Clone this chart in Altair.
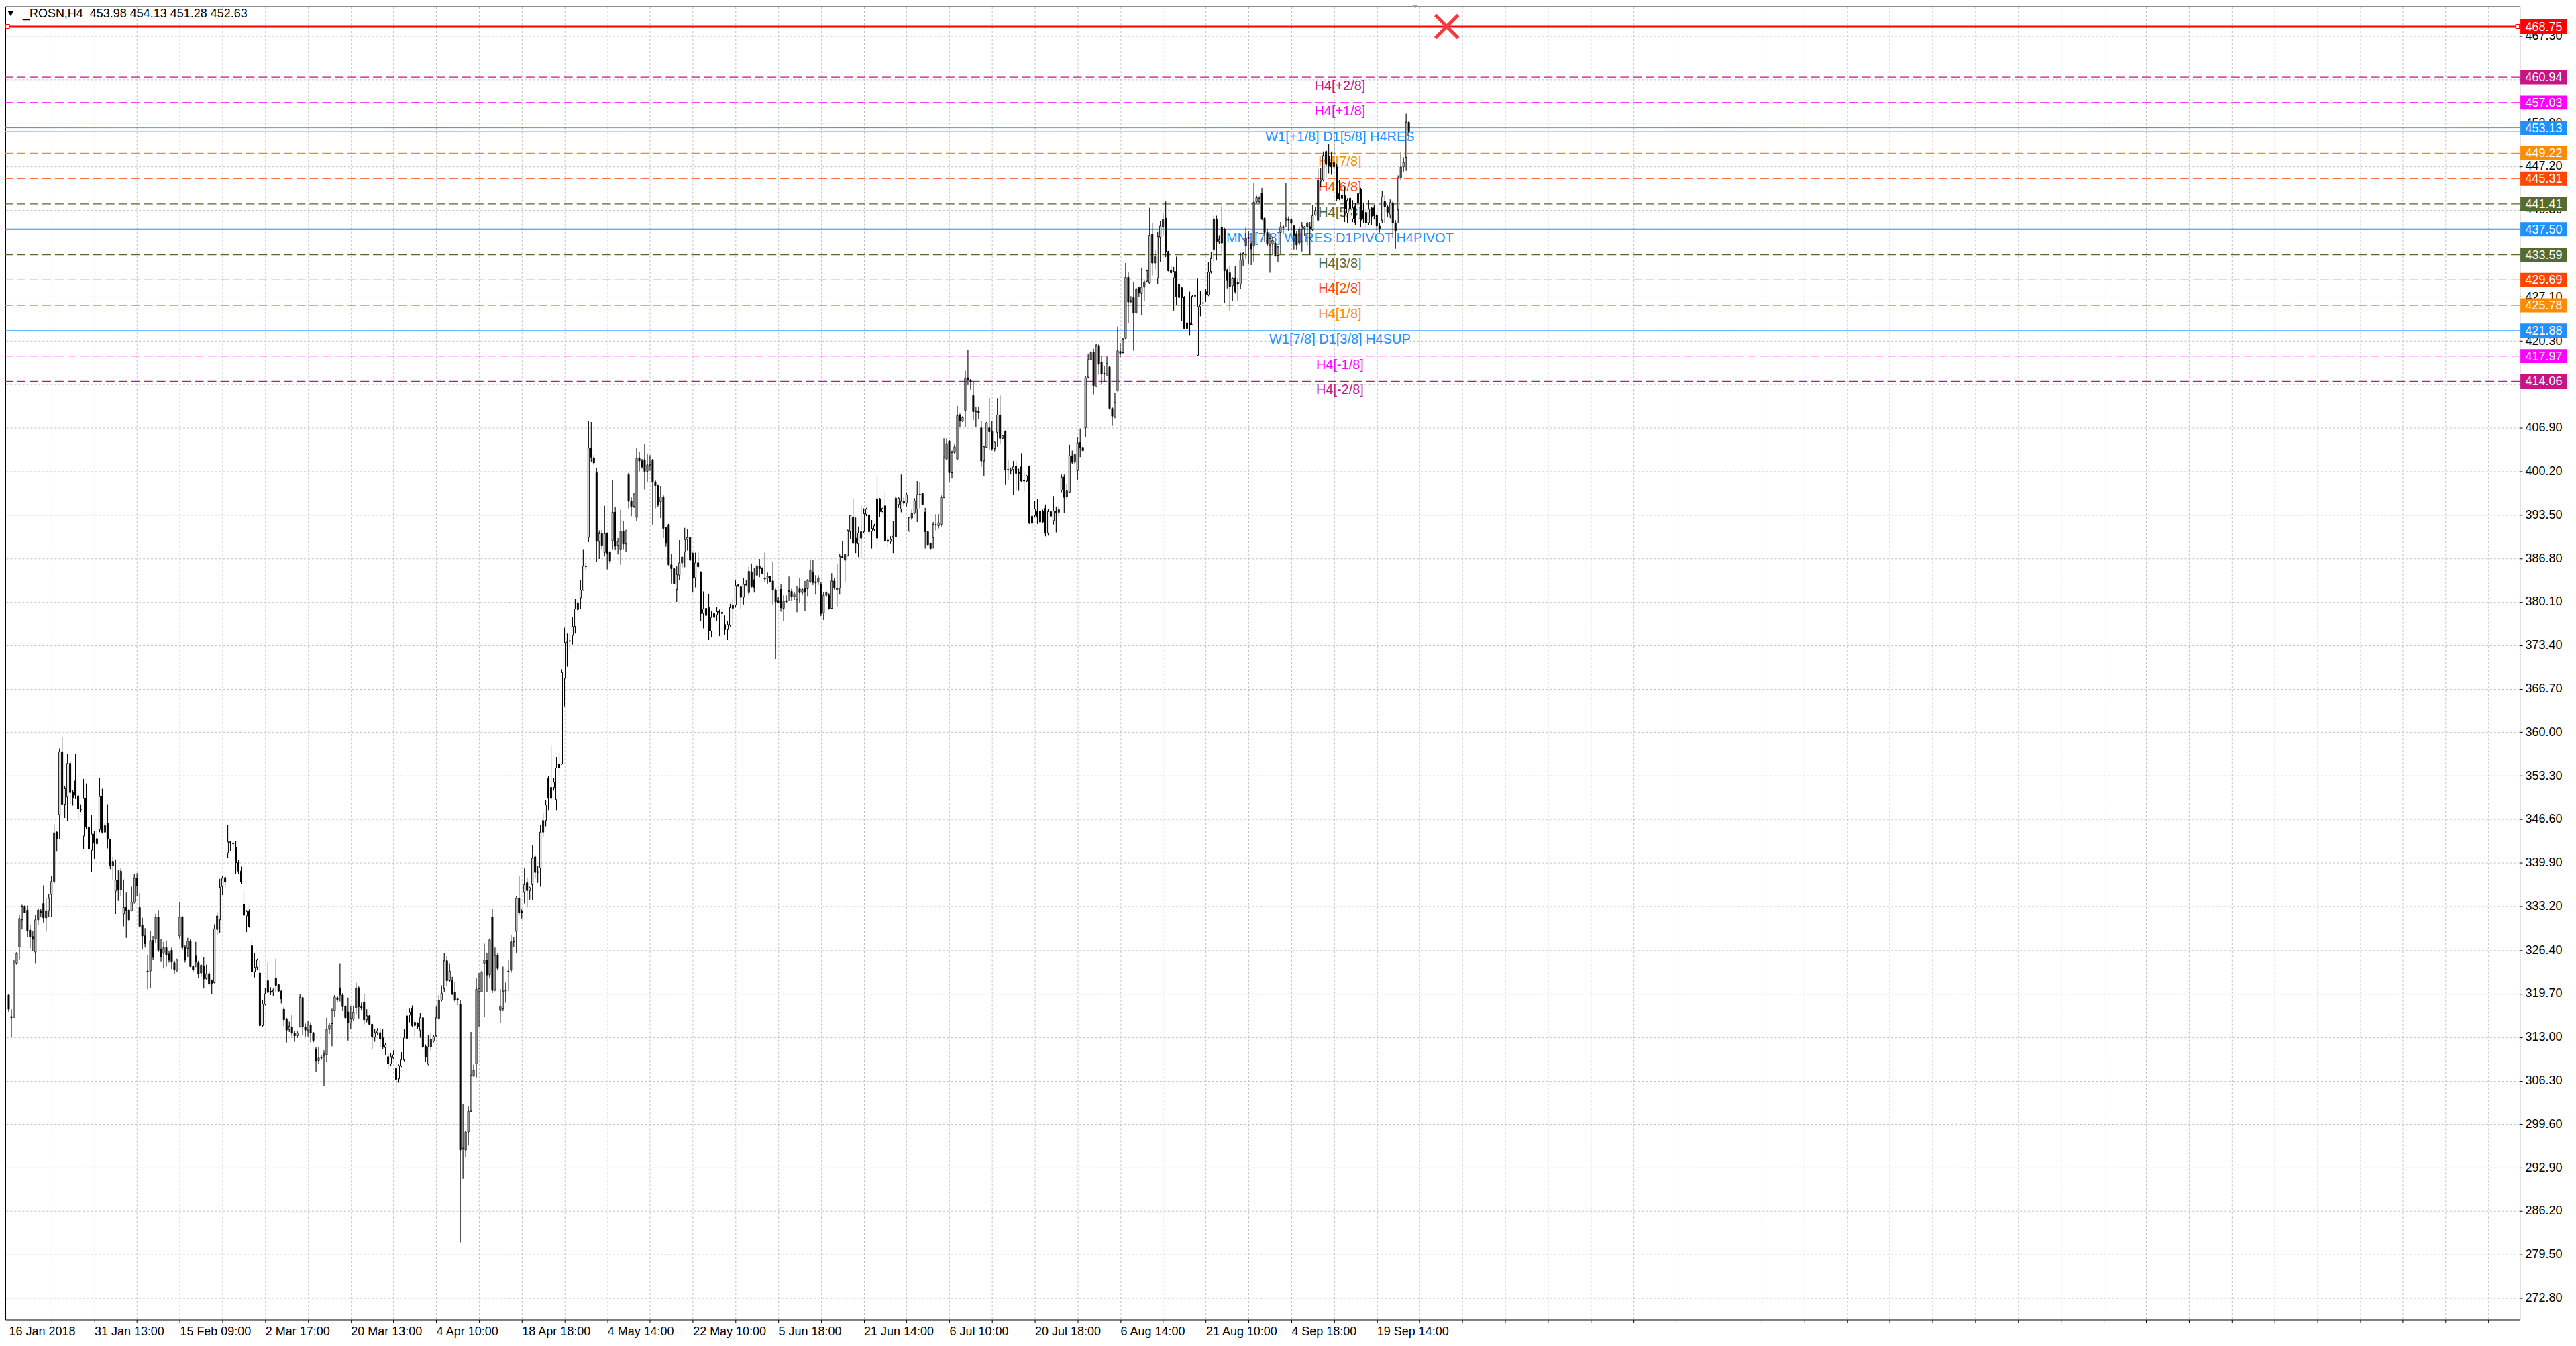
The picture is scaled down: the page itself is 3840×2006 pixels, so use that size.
import json
import altair as alt
import pandas as pd

# ---------------- candle data (H4 bars) ----------------
OPEN = [
    319.5, 316.0, 316.1, 324.4, 326.9, 331.1, 333.2, 332.6, 329.5, 328.5,
    326.1, 331.1, 332.4, 333.6, 331.4, 332.5, 335.0, 337.0, 344.6, 347.3,
    357.0, 348.9, 350.0, 355.2, 350.8, 352.5, 350.2, 348.1, 344.0, 349.8,
    345.4, 341.8, 344.3, 342.8, 345.0, 350.1, 344.6, 346.0, 343.5, 339.4,
    335.5, 337.2, 335.7, 332.0, 333.0, 332.6, 332.5, 333.8, 337.5, 333.0,
    330.3, 328.6, 323.2, 323.2, 327.9, 328.1, 331.5, 326.5, 325.9, 326.8,
    325.8, 326.4, 324.5, 323.4, 328.6, 331.5, 326.9, 326.7, 327.8, 323.9,
    325.5, 324.5, 322.9, 323.9, 322.0, 322.8, 321.7, 321.4, 329.6, 331.1,
    336.2, 337.6, 341.4, 343.1, 342.9, 342.3, 339.9, 338.6, 333.5, 331.7,
    332.4, 327.1, 323.1, 323.8, 322.9, 314.8, 318.1, 321.7, 320.1, 320.0,
    322.1, 321.1, 320.1, 317.3, 315.8, 314.2, 314.6, 313.6, 313.2, 314.6,
    319.1, 314.6, 314.1, 314.9, 313.7, 311.1, 309.4, 309.9, 310.1, 310.3,
    314.2, 315.1, 317.1, 319.1, 320.6, 319.5, 317.8, 316.9, 315.2, 315.8,
    317.5, 320.6, 317.7, 318.4, 315.7, 316.3, 315.0, 313.0, 313.7, 313.7,
    312.9, 311.4, 310.0, 308.9, 309.8, 308.2, 306.6, 308.6, 309.5, 312.8,
    316.4, 317.4, 314.8, 315.2, 314.1, 316.0, 311.6, 308.9, 311.5, 312.4,
    313.2, 315.9, 318.7, 320.5, 324.8, 321.7, 321.7, 319.9, 318.9, 318.1,
    295.8, 295.6, 298.4, 301.6, 307.0, 308.9, 320.0, 320.0, 324.4, 324.9,
    322.6, 331.5, 320.3, 325.6, 317.2, 317.4, 320.1, 323.1, 323.3, 327.7,
    329.3, 334.4, 332.4, 335.3, 336.8, 335.6, 336.5, 340.8, 338.4, 339.1,
    344.6, 346.4, 352.9, 349.8, 351.5, 349.6, 354.5, 355.1, 368.3, 373.8,
    374.0, 374.9, 376.3, 378.9, 380.7, 381.9, 385.5, 390.0, 403.8, 402.3,
    400.0, 389.4, 390.6, 387.7, 390.6, 387.8, 389.5, 393.9, 388.8, 388.2,
    391.0, 389.0, 399.7, 395.6, 394.8, 393.1, 402.3, 401.8, 402.0, 400.2,
    401.2, 402.0, 398.6, 398.0, 395.5, 396.3, 391.5, 392.0, 385.8, 385.2,
    382.0, 384.2, 386.1, 387.8, 389.7, 390.0, 387.6, 383.8, 386.1, 384.7,
    378.3, 379.1, 379.2, 375.6, 377.7, 378.1, 378.6, 378.5, 376.6, 375.8,
    376.5, 379.1, 379.6, 382.7, 382.4, 380.8, 382.8, 381.5, 384.7, 383.5,
    384.2, 385.6, 385.3, 383.6, 383.7, 384.0, 383.3, 381.9, 380.3, 382.0,
    379.1, 380.3, 381.7, 381.7, 380.9, 380.5, 382.1, 381.5, 382.1, 382.1,
    383.2, 384.6, 383.0, 383.2, 382.8, 378.4, 381.1, 381.1, 379.1, 383.3,
    381.9, 382.2, 387.1, 386.5, 387.2, 390.9, 393.1, 389.9, 389.0, 389.9,
    390.9, 393.6, 393.5, 391.0, 391.2, 389.9, 396.0, 394.0, 394.9, 389.6,
    389.4, 390.0, 390.1, 395.1, 394.4, 395.6, 395.3, 391.0, 393.0, 393.8,
    394.4, 396.6, 396.8, 393.9, 390.9, 389.1, 390.0, 392.0, 391.8, 392.0,
    396.2, 402.1, 404.9, 400.0, 403.1, 402.1, 408.9, 407.9, 409.6, 414.6,
    414.3, 411.9, 409.5, 409.5, 406.9, 401.8, 403.9, 406.9, 406.4, 403.7,
    406.2, 408.9, 405.3, 406.4, 400.5, 400.4, 400.5, 401.0, 400.0, 400.9,
    398.8, 398.7, 401.0, 392.2, 393.4, 394.0, 392.4, 394.1, 394.5, 390.7,
    394.0, 392.6, 394.1, 393.9, 397.3, 399.3, 396.3, 397.0, 402.6, 401.6,
    400.3, 404.7, 403.9, 406.9, 414.7, 417.4, 418.6, 413.3, 419.6, 417.0,
    415.3, 415.2, 416.3, 409.9, 408.6, 412.6, 418.7, 418.5, 420.7, 430.1,
    426.5, 427.0, 424.6, 428.5, 427.6, 428.6, 429.5, 429.2, 436.8, 432.3,
    430.0, 436.3, 437.8, 439.2, 434.1, 431.2, 430.0, 431.0, 427.0, 428.5,
    427.1, 422.2, 423.1, 422.8, 427.2, 418.1, 425.6, 426.1, 427.9, 427.4,
    431.0, 434.4, 439.1, 435.7, 437.8, 437.5, 431.1, 430.8, 428.8, 430.0,
    429.3, 429.0, 432.8, 435.0, 436.3, 435.3, 434.9, 441.7, 441.8, 443.1,
    439.2, 437.0, 435.1, 435.2, 435.4, 433.5, 437.0, 437.7, 438.9, 439.1,
    439.0, 438.0, 436.8, 435.4, 437.5, 437.6, 437.9, 437.9, 437.4, 439.7,
    438.9, 444.9, 445.1, 449.5, 448.7, 447.8, 447.1, 447.1, 443.0, 442.3,
    442.7, 440.0, 442.3, 439.1, 441.1, 441.6, 443.7, 440.4, 440.1, 438.5,
    440.8, 440.8, 439.7, 438.0, 438.9, 441.8, 441.0, 439.7, 441.6, 438.5,
    440.5, 445.4, 447.1, 448.6, 453.98,
]

HIGH = [
    319.7, 317.3, 324.9, 326.1, 331.9, 333.4, 333.3, 333.3, 330.3, 329.4,
    331.8, 332.9, 332.8, 336.4, 334.4, 335.0, 337.9, 345.8, 344.7, 357.5,
    359.2, 351.7, 356.7, 355.6, 351.1, 356.7, 350.4, 348.9, 352.8, 352.1,
    345.5, 347.3, 344.8, 344.9, 353.0, 351.3, 346.0, 348.9, 343.5, 340.8,
    340.4, 338.8, 339.1, 337.3, 335.3, 332.7, 336.2, 338.2, 338.3, 335.2,
    331.4, 329.8, 325.6, 329.4, 328.6, 332.0, 332.6, 328.1, 327.7, 327.9,
    326.3, 326.8, 324.8, 325.1, 333.8, 331.7, 327.2, 328.3, 328.1, 324.1,
    327.7, 324.8, 324.3, 325.4, 324.2, 323.0, 321.9, 330.4, 332.3, 337.4,
    337.9, 337.8, 345.7, 343.2, 343.1, 343.2, 340.3, 339.3, 335.7, 332.6,
    332.7, 328.0, 325.9, 325.1, 324.9, 318.7, 320.6, 324.5, 320.7, 320.5,
    325.1, 321.2, 320.2, 317.6, 316.0, 315.4, 316.4, 313.9, 313.9, 319.6,
    319.2, 315.1, 315.5, 315.3, 313.8, 311.5, 311.5, 310.2, 311.0, 316.0,
    315.2, 317.4, 319.5, 319.3, 324.4, 319.8, 317.9, 319.1, 317.8, 317.8,
    321.4, 320.8, 318.3, 319.7, 317.3, 316.4, 315.1, 314.3, 314.4, 314.4,
    314.3, 312.1, 310.6, 310.5, 311.0, 309.2, 308.8, 310.7, 314.3, 317.3,
    317.4, 317.9, 315.7, 315.3, 316.8, 316.1, 311.9, 313.4, 313.7, 313.3,
    317.7, 319.5, 321.0, 325.9, 325.5, 324.4, 322.3, 321.5, 319.0, 318.7,
    302.7, 298.6, 302.3, 313.8, 308.8, 322.1, 322.9, 323.2, 327.4, 325.9,
    328.2, 332.8, 326.8, 326.0, 320.4, 323.9, 321.4, 325.0, 328.7, 328.4,
    334.8, 337.9, 332.7, 339.0, 337.6, 336.2, 342.6, 341.1, 339.4, 345.7,
    347.6, 349.5, 353.2, 357.9, 352.9, 356.2, 356.9, 369.7, 376.1, 375.2,
    375.2, 377.7, 380.6, 380.4, 383.5, 388.2, 386.1, 408.0, 407.8, 402.7,
    400.7, 391.1, 391.2, 394.9, 390.8, 387.9, 398.8, 394.7, 389.9, 394.3,
    392.5, 391.2, 400.0, 396.2, 396.9, 403.8, 403.2, 402.1, 404.5, 402.9,
    402.7, 402.1, 398.9, 398.1, 397.9, 396.6, 391.6, 392.1, 387.5, 385.3,
    385.6, 389.6, 387.1, 391.5, 391.3, 390.1, 387.7, 387.7, 387.7, 384.8,
    381.7, 379.2, 381.3, 378.7, 378.5, 379.3, 378.9, 378.6, 378.0, 377.2,
    379.8, 380.5, 383.5, 382.8, 382.6, 383.7, 383.5, 385.5, 386.0, 385.3,
    385.8, 386.7, 385.4, 387.7, 384.6, 384.1, 386.2, 382.1, 380.8, 382.8,
    381.1, 381.1, 384.0, 382.1, 381.5, 382.5, 383.7, 382.2, 383.3, 383.6,
    386.5, 386.6, 384.2, 384.2, 383.2, 381.6, 381.7, 381.4, 384.5, 383.7,
    385.9, 387.5, 389.4, 387.5, 391.2, 393.5, 395.9, 393.1, 391.7, 395.0,
    394.5, 394.6, 393.6, 392.7, 392.1, 399.5, 396.1, 394.6, 397.0, 390.1,
    390.2, 392.5, 396.4, 396.2, 399.7, 396.2, 397.0, 393.2, 394.3, 396.1,
    398.7, 398.5, 396.9, 394.6, 391.0, 389.2, 392.4, 393.6, 393.6, 396.5,
    405.3, 405.3, 405.0, 403.4, 404.5, 410.3, 409.1, 408.7, 415.7, 418.9,
    414.4, 414.0, 410.1, 410.2, 408.0, 404.1, 407.8, 411.5, 407.9, 404.9,
    411.5, 411.9, 405.8, 406.5, 402.0, 400.8, 401.8, 401.8, 400.6, 403.0,
    400.1, 399.6, 401.1, 394.4, 395.6, 396.0, 394.2, 394.3, 395.1, 394.4,
    394.2, 396.4, 394.8, 394.8, 399.7, 399.7, 398.2, 404.3, 403.4, 402.9,
    405.5, 406.8, 404.0, 414.9, 418.3, 418.7, 419.1, 419.9, 419.8, 418.0,
    416.4, 417.9, 416.4, 410.1, 412.3, 422.5, 420.0, 420.8, 432.3, 430.9,
    427.2, 429.3, 428.5, 428.6, 431.6, 429.6, 431.3, 440.8, 438.5, 434.4,
    437.1, 438.8, 439.9, 441.8, 434.2, 431.8, 431.7, 433.3, 429.1, 428.6,
    427.2, 423.6, 427.9, 427.4, 428.0, 429.9, 428.0, 427.5, 428.3, 432.4,
    434.0, 439.6, 439.6, 436.6, 441.1, 437.7, 431.4, 431.9, 430.1, 431.9,
    430.0, 433.9, 434.0, 437.8, 437.2, 435.5, 444.7, 442.7, 442.6, 443.9,
    439.3, 437.6, 436.9, 436.3, 435.5, 435.0, 438.6, 438.2, 444.6, 439.5,
    439.2, 438.2, 437.2, 437.9, 438.6, 438.0, 438.6, 438.6, 441.3, 441.0,
    446.8, 446.9, 449.5, 449.7, 450.6, 449.5, 452.5, 447.5, 445.1, 444.0,
    444.0, 442.3, 444.4, 442.0, 441.6, 443.5, 443.9, 441.5, 440.6, 442.0,
    441.0, 441.2, 439.9, 438.5, 443.4, 442.7, 441.3, 442.1, 441.8, 438.9,
    445.8, 449.4, 448.6, 455.3, 454.13,
]

LOW = [
    316.9, 313.0, 316.0, 324.2, 325.0, 329.6, 332.2, 328.5, 326.7, 326.3,
    324.4, 330.3, 331.5, 330.7, 329.3, 331.5, 331.6, 336.6, 341.6, 343.5,
    348.8, 346.8, 346.3, 349.0, 348.7, 349.7, 346.6, 347.7, 342.0, 345.1,
    341.5, 338.5, 340.5, 342.5, 344.6, 344.4, 344.5, 342.1, 338.9, 337.3,
    332.0, 334.0, 334.7, 330.1, 328.3, 330.9, 332.4, 333.6, 334.7, 330.0,
    326.5, 326.8, 320.4, 320.6, 324.9, 327.5, 326.1, 324.7, 323.6, 323.9,
    324.5, 323.5, 322.8, 323.1, 328.2, 326.4, 324.5, 325.3, 323.8, 323.1,
    323.8, 322.1, 322.3, 320.5, 321.9, 321.0, 319.6, 321.3, 328.7, 329.1,
    334.9, 336.1, 340.6, 341.7, 341.6, 338.1, 338.1, 336.6, 331.7, 329.2,
    329.9, 322.4, 322.2, 323.4, 314.6, 314.6, 317.9, 319.8, 319.5, 319.4,
    320.0, 320.0, 318.2, 314.7, 312.2, 313.8, 312.9, 312.3, 312.9, 314.5,
    313.4, 313.1, 313.1, 312.2, 312.2, 307.7, 308.9, 309.5, 305.5, 309.2,
    313.5, 311.6, 316.1, 318.4, 318.5, 317.0, 315.9, 312.5, 314.3, 315.6,
    316.6, 315.9, 317.2, 315.0, 315.3, 314.9, 311.2, 312.3, 313.3, 311.5,
    311.2, 310.3, 308.1, 308.6, 309.7, 304.9, 306.0, 308.4, 309.3, 312.6,
    315.3, 314.6, 313.1, 314.3, 312.9, 311.3, 309.2, 308.7, 310.8, 312.2,
    313.1, 315.7, 318.5, 319.9, 320.8, 321.5, 319.5, 318.4, 317.9, 281.4,
    291.2, 294.5, 296.3, 301.4, 306.9, 306.8, 314.6, 319.9, 316.1, 319.9,
    322.2, 319.8, 320.1, 323.3, 315.2, 317.1, 318.3, 320.1, 322.9, 326.9,
    326.0, 331.8, 331.3, 333.6, 333.0, 334.2, 334.1, 337.6, 336.8, 336.2,
    343.9, 345.5, 348.0, 349.5, 351.0, 348.0, 353.2, 355.0, 364.0, 370.1,
    372.6, 373.5, 375.2, 378.6, 379.0, 381.8, 385.0, 389.3, 401.6, 401.2,
    386.2, 386.7, 388.2, 387.1, 385.1, 386.0, 388.2, 388.1, 387.4, 385.8,
    388.2, 387.8, 394.5, 393.3, 394.6, 392.5, 400.2, 400.6, 397.4, 398.6,
    400.3, 392.0, 394.5, 394.7, 393.0, 389.9, 388.6, 385.7, 382.9, 382.8,
    380.1, 383.4, 385.4, 385.4, 388.0, 386.4, 381.5, 382.3, 385.4, 377.2,
    376.0, 377.9, 374.2, 374.6, 377.5, 377.2, 374.8, 377.2, 375.0, 374.2,
    376.3, 376.5, 379.2, 382.4, 379.0, 379.7, 382.6, 381.1, 382.3, 381.5,
    384.1, 383.9, 384.4, 383.2, 382.9, 383.1, 379.6, 371.3, 379.9, 378.6,
    377.1, 379.9, 380.2, 380.3, 380.4, 378.5, 380.0, 381.1, 378.7, 381.0,
    383.0, 382.7, 381.2, 382.7, 377.9, 377.3, 380.9, 378.9, 379.0, 382.0,
    379.4, 381.2, 386.8, 383.2, 387.1, 389.8, 389.0, 387.6, 387.0, 386.9,
    390.7, 393.3, 390.3, 388.3, 391.0, 388.6, 393.2, 393.9, 389.1, 388.6,
    389.0, 387.6, 390.0, 394.6, 393.9, 394.9, 394.8, 390.9, 392.7, 393.6,
    392.4, 394.5, 395.0, 388.3, 388.8, 388.2, 388.3, 391.1, 391.4, 391.7,
    396.1, 402.0, 398.6, 399.1, 402.9, 402.0, 407.0, 407.8, 407.0, 413.5,
    412.8, 408.1, 407.0, 408.2, 400.9, 399.5, 403.8, 403.5, 403.4, 403.3,
    404.0, 404.5, 405.2, 398.1, 398.8, 399.7, 396.6, 397.2, 397.2, 398.6,
    397.1, 398.6, 392.1, 391.0, 393.1, 392.1, 392.2, 392.3, 390.2, 390.3,
    393.1, 392.0, 390.8, 393.3, 397.0, 393.8, 395.9, 396.9, 401.4, 401.3,
    398.9, 402.4, 403.3, 405.5, 414.5, 417.3, 412.1, 413.2, 415.1, 413.7,
    414.0, 414.9, 409.7, 407.2, 408.4, 412.5, 417.8, 418.4, 420.6, 423.1,
    426.2, 418.8, 424.5, 427.1, 424.3, 426.5, 429.3, 429.1, 430.4, 431.3,
    429.0, 432.4, 436.5, 433.2, 431.0, 430.7, 425.0, 425.8, 426.9, 423.4,
    422.1, 422.1, 421.1, 422.7, 427.1, 418.0, 424.1, 425.9, 426.3, 427.2,
    430.7, 432.4, 432.7, 435.2, 433.9, 426.2, 428.4, 425.0, 426.4, 427.6,
    426.5, 428.3, 431.9, 432.9, 432.1, 432.0, 432.4, 441.5, 441.6, 438.9,
    435.5, 435.0, 430.8, 433.7, 433.3, 432.5, 433.7, 436.8, 437.9, 437.2,
    437.2, 434.4, 434.4, 435.1, 434.1, 436.5, 435.1, 433.6, 437.2, 439.6,
    438.7, 444.0, 444.9, 445.4, 446.1, 445.9, 447.0, 441.9, 442.0, 441.6,
    438.6, 438.4, 438.9, 438.6, 438.2, 439.7, 437.9, 438.5, 437.7, 438.2,
    438.1, 439.0, 437.2, 437.0, 438.5, 438.5, 439.3, 439.2, 436.1, 434.5,
    438.5, 445.1, 446.4, 446.5, 451.28,
]

CLOSE = [
    317.3, 316.2, 324.3, 325.9, 331.3, 333.2, 332.2, 329.4, 328.5, 328.1,
    331.1, 332.6, 332.2, 331.4, 332.5, 334.4, 337.0, 344.5, 343.6, 357.0,
    348.9, 351.3, 355.2, 350.7, 349.9, 350.3, 348.2, 348.2, 349.8, 345.4,
    342.0, 344.3, 342.9, 343.6, 350.1, 344.6, 345.6, 343.5, 339.4, 340.1,
    337.2, 335.7, 338.6, 333.0, 332.5, 331.1, 333.8, 337.5, 336.4, 330.1,
    328.6, 327.4, 323.1, 327.9, 325.3, 331.5, 326.4, 325.4, 326.8, 325.7,
    324.9, 324.6, 323.4, 324.9, 331.5, 326.8, 324.9, 327.8, 323.9, 323.4,
    324.6, 322.8, 324.1, 322.0, 322.8, 321.2, 321.3, 329.7, 331.7, 336.1,
    337.5, 336.9, 343.1, 342.9, 342.8, 339.9, 338.6, 336.9, 331.8, 332.4,
    330.0, 323.1, 323.8, 324.9, 314.8, 318.1, 319.7, 319.9, 319.9, 320.2,
    321.0, 320.1, 318.9, 315.7, 314.1, 314.7, 313.6, 313.2, 313.7, 319.1,
    314.6, 314.1, 314.9, 313.7, 312.5, 309.4, 309.8, 309.8, 310.4, 314.2,
    314.9, 317.1, 319.2, 318.8, 319.5, 317.7, 316.0, 315.2, 315.9, 316.9,
    320.6, 317.7, 317.5, 315.7, 316.3, 315.0, 313.0, 313.7, 314.0, 312.7,
    311.5, 311.8, 308.9, 310.0, 310.3, 306.5, 308.6, 309.5, 312.9, 316.3,
    316.9, 314.8, 315.3, 314.6, 316.0, 311.5, 309.9, 311.5, 312.7, 313.1,
    316.0, 318.7, 319.8, 324.8, 321.7, 323.2, 319.7, 318.7, 318.7, 295.6,
    295.9, 298.4, 301.6, 307.1, 307.9, 320.4, 320.5, 323.1, 324.9, 322.6,
    328.0, 320.2, 325.6, 323.6, 317.8, 320.1, 320.3, 323.2, 327.7, 327.8,
    334.4, 332.2, 332.2, 336.5, 335.6, 336.0, 340.6, 338.4, 338.5, 344.6,
    346.4, 348.8, 349.8, 351.5, 352.3, 354.5, 355.1, 369.2, 373.8, 373.9,
    374.1, 376.3, 379.0, 379.9, 381.9, 385.6, 385.6, 403.8, 402.4, 401.5,
    389.4, 390.6, 388.8, 390.6, 387.6, 386.4, 393.9, 388.7, 389.4, 391.0,
    389.0, 391.0, 395.6, 394.8, 396.6, 402.3, 401.8, 400.9, 400.2, 401.2,
    401.3, 398.6, 398.0, 395.1, 396.3, 391.4, 389.1, 385.8, 385.2, 382.9,
    384.3, 386.1, 387.0, 389.7, 390.0, 386.5, 383.8, 386.1, 385.5, 378.3,
    379.0, 378.0, 375.6, 377.7, 378.3, 378.6, 378.5, 378.3, 375.8, 376.6,
    379.2, 379.6, 382.6, 382.5, 380.8, 382.8, 382.7, 384.8, 382.4, 382.3,
    385.6, 385.2, 384.5, 383.7, 384.0, 383.2, 381.9, 380.1, 380.0, 379.2,
    380.2, 380.1, 381.8, 380.9, 381.3, 382.2, 381.5, 382.0, 381.6, 383.4,
    385.0, 383.1, 383.2, 383.8, 378.3, 381.1, 381.5, 379.1, 383.3, 382.2,
    382.2, 387.1, 386.9, 387.4, 391.1, 393.4, 389.1, 389.1, 390.7, 390.9,
    393.7, 394.4, 390.9, 391.4, 391.8, 396.0, 394.0, 394.5, 389.5, 389.4,
    389.7, 390.2, 396.1, 396.1, 395.6, 395.3, 396.6, 393.1, 393.8, 395.7,
    396.6, 396.7, 395.1, 390.9, 388.9, 388.3, 392.0, 391.9, 392.3, 396.2,
    402.3, 404.5, 400.0, 403.1, 404.0, 408.8, 408.0, 408.5, 414.6, 414.3,
    414.0, 409.4, 409.4, 409.2, 401.8, 404.0, 407.7, 406.3, 403.7, 404.7,
    408.9, 405.3, 405.7, 400.4, 400.4, 400.3, 400.9, 399.9, 399.9, 398.7,
    398.7, 399.5, 392.2, 393.3, 394.4, 393.2, 394.1, 392.4, 390.7, 394.0,
    393.3, 394.1, 393.8, 394.3, 399.3, 396.2, 397.2, 402.6, 401.6, 402.8,
    404.6, 403.8, 403.4, 414.6, 417.4, 418.5, 413.4, 419.6, 416.7, 415.2,
    415.2, 416.8, 409.9, 408.7, 410.8, 418.8, 418.4, 420.6, 430.1, 426.3,
    426.4, 424.6, 428.3, 427.7, 428.6, 429.4, 431.1, 436.6, 432.3, 433.3,
    436.4, 438.0, 439.0, 434.1, 431.1, 430.8, 431.0, 427.1, 429.0, 427.0,
    422.2, 423.1, 422.8, 427.2, 427.3, 425.6, 425.9, 426.2, 427.5, 430.9,
    433.0, 439.1, 435.6, 436.0, 435.4, 431.1, 429.6, 428.7, 429.9, 427.9,
    429.0, 432.8, 433.8, 436.2, 436.1, 434.5, 441.7, 442.4, 442.3, 439.1,
    437.0, 435.2, 436.1, 435.8, 433.4, 434.8, 437.9, 437.9, 439.2, 438.9,
    438.4, 436.5, 435.1, 437.5, 438.0, 437.9, 438.5, 437.6, 439.6, 440.4,
    445.1, 445.1, 448.9, 447.5, 447.3, 447.1, 447.8, 442.2, 442.2, 442.8,
    440.6, 442.0, 440.6, 440.8, 438.5, 443.0, 438.9, 439.1, 438.5, 440.6,
    439.5, 439.6, 438.0, 437.6, 442.5, 441.0, 440.1, 441.6, 438.5, 437.2,
    445.4, 447.1, 447.8, 454.0, 452.63,
]

# ---------------- axes ----------------
X_LABELS = ["16 Jan 2018", "31 Jan 13:00", "15 Feb 09:00", "2 Mar 17:00",
            "20 Mar 13:00", "4 Apr 10:00", "18 Apr 18:00", "4 May 14:00",
            "22 May 10:00", "5 Jun 18:00", "21 Jun 14:00", "6 Jul 10:00",
            "20 Jul 18:00", "6 Aug 14:00", "21 Aug 10:00", "4 Sep 18:00",
            "19 Sep 14:00"]
Y_TICKS = [272.80, 279.50, 286.20, 292.90, 299.60, 306.30, 313.00, 319.70,
           326.40, 333.20, 339.90, 346.60, 353.30, 360.00, 366.70, 373.40,
           380.10, 386.80, 393.50, 400.20, 406.90, 413.60, 420.30, 427.10,
           433.80, 440.50, 447.20, 453.90, 460.60, 467.30]

# ---------------- horizontal levels ----------------
LEVEL_PRICES = [468.75, 460.94, 457.03, 453.13, 452.63, 449.22, 445.31, 441.41,
                437.50, 433.59, 429.69, 425.78, 421.88, 417.97, 414.06]
LEVEL_COLORS = ["#FF0000", "#C71585", "#FF00FF", "#1E90FF", "#C0C0C0", "#FF8C00",
                "#FF4500", "#556B2F", "#1E90FF", "#556B2F", "#FF4500", "#FF8C00",
                "#1E90FF", "#FF00FF", "#C71585"]
LEVEL_STYLES = ["solid", "dash", "dash", "solid", "solid", "dash", "dash", "dash",
                "solid", "dash", "dash", "dash", "solid", "dash", "dash"]
LEVEL_WIDTHS = [2, 1.2, 1.2, 1, 1, 1.2, 1.2, 1.2, 2, 1.2, 1.2, 1.2, 1, 1.2, 1.2]

LABEL_PRICES = [460.94, 457.03, 453.13, 449.22, 445.31, 441.41, 437.50, 433.59,
                429.69, 425.78, 421.88, 417.97, 414.06]
LABEL_TEXTS = ["H4[+2/8]", "H4[+1/8]", "W1[+1/8] D1[5/8] H4RES", "H4[7/8]",
               "H4[6/8]", "H4[5/8]", "MN1[7/8] W1RES D1PIVOT H4PIVOT", "H4[3/8]",
               "H4[2/8]", "H4[1/8]", "W1[7/8] D1[3/8] H4SUP", "H4[-1/8]", "H4[-2/8]"]
LABEL_COLORS = ["#C71585", "#FF00FF", "#1E90FF", "#FF8C00", "#FF4500", "#556B2F",
                "#1E90FF", "#556B2F", "#FF4500", "#FF8C00", "#1E90FF", "#FF00FF",
                "#C71585"]

BOX_PRICES = [468.75, 460.94, 457.03, 453.13, 449.22, 445.31, 441.41, 437.50,
              433.59, 429.69, 425.78, 421.88, 417.97, 414.06]
BOX_COLORS = ["#FF0000", "#C71585", "#FF00FF", "#1E90FF", "#FF8C00", "#FF4500",
              "#556B2F", "#1E90FF", "#556B2F", "#FF4500", "#FF8C00", "#1E90FF",
              "#FF00FF", "#C71585"]

TITLE = "_ROSN,H4\u00a0\u00a0453.98 454.13 451.28 452.63"
MARKER_PRICE = 468.75

# ---------------- layout ----------------
W, H = 3754, 1960
X_MIN = 0.0
X_MAX = X_MIN + W / 4.0
Y_MIN, Y_MAX = 269.5, 471.85
LABEL_BAR = 498.2
MARKER_BAR = 538.2
SHIFT_BAR = 526.4
FONT = "Liberation Sans"

n = len(OPEN)
candles = pd.DataFrame({"i": list(range(n)), "o": OPEN, "h": HIGH, "l": LOW, "c": CLOSE})
candles["fill"] = ["white" if c >= o else "black" for o, c in zip(OPEN, CLOSE)]

levels = pd.DataFrame({"p": LEVEL_PRICES, "col": LEVEL_COLORS,
                       "dash": LEVEL_STYLES, "w": LEVEL_WIDTHS})
labels = pd.DataFrame({"p": LABEL_PRICES, "t": LABEL_TEXTS, "col": LABEL_COLORS})
boxes = pd.DataFrame({"p": BOX_PRICES, "col": BOX_COLORS,
                      "t": [f"{v:.2f}" for v in BOX_PRICES]})
single = pd.DataFrame({"t": [TITLE]})

xscale = alt.Scale(domain=[X_MIN, X_MAX], nice=False, zero=False)
yscale = alt.Scale(domain=[Y_MIN, Y_MAX], nice=False, zero=False)

label_expr = ("(datum.value % 32 == 0 && datum.value <= 512) ? "
              + json.dumps(X_LABELS) + "[datum.value / 32] : ''")

x_axis = alt.Axis(values=list(range(0, 929, 16)), labelExpr=label_expr,
                  grid=True, gridColor="#C0C0C0", gridDash=[3, 3], gridWidth=1,
                  domain=False, ticks=True, tickSize=5, tickColor="black",
                  labelAlign="left", labelFlush=False, labelOverlap=False,
                  labelFont=FONT, labelFontSize=18, labelColor="black",
                  labelPadding=4, title=None)
y_axis = alt.Axis(orient="right", values=Y_TICKS, format=".2f",
                  grid=True, gridColor="#C0C0C0", gridDash=[3, 3], gridWidth=1,
                  domain=False, tickSize=4, tickColor="black",
                  labelFont=FONT, labelFontSize=18, labelColor="black",
                  labelPadding=4, labelOverlap=False, title=None)


def X(field):
    return alt.X(field, scale=xscale, axis=x_axis)


def Y(field):
    return alt.Y(field, scale=yscale, axis=y_axis)


lines = alt.Chart(levels).mark_rule().encode(
    y=Y("p:Q"),
    color=alt.Color("col:N", scale=None),
    strokeDash=alt.StrokeDash("dash:N", scale=alt.Scale(domain=["solid", "dash"],
                                                          range=[[1, 0], [13, 6]]),
                              legend=None),
    strokeWidth=alt.StrokeWidth("w:Q", scale=None),
)

level_text = alt.Chart(labels).mark_text(
    font=FONT, fontSize=20, align="center", baseline="alphabetic", dy=19
).encode(
    x=alt.XDatum(LABEL_BAR, type="quantitative"),
    y=Y("p:Q"),
    text="t:N",
    color=alt.Color("col:N", scale=None),
)

wicks = alt.Chart(candles).mark_rule(color="black", strokeWidth=1.1, clip=True).encode(
    x=X("i:Q"), y=Y("l:Q"), y2="h:Q"
)

bodies = alt.Chart(candles).mark_bar(width=2, stroke="black", strokeWidth=1,
                                     clip=True).encode(
    x=X("i:Q"), y=Y("o:Q"), y2="c:Q", fill=alt.Fill("fill:N", scale=None)
)

box_rects = alt.Chart(boxes).mark_tick(orient="horizontal", thickness=21,
                                       opacity=1).encode(
    x=alt.value(W + 36), y=Y("p:Q"), size=alt.value(70),
    color=alt.Color("col:N", scale=None),
)

box_text = alt.Chart(boxes).mark_text(font=FONT, fontSize=18, color="white",
                                      align="center", baseline="middle", dy=1).encode(
    x=alt.value(W + 36), y=Y("p:Q"), text="t:N"
)

title = alt.Chart(single).mark_text(font=FONT, fontSize=18, align="left",
                                    baseline="middle", color="black").encode(
    x=alt.value(26), y=alt.value(11), text="t:N"
)

tri = alt.Chart(single).mark_point(shape="triangle-down", filled=True, color="black",
                                   size=70, opacity=1).encode(
    x=alt.value(8), y=alt.value(11)
)

shift_tri = alt.Chart(single).mark_point(shape="triangle-down", filled=True,
                                         color="#A0A0A0", size=160, opacity=1).encode(
    x=alt.XDatum(SHIFT_BAR, type="quantitative"), y=alt.value(-2)
)

cross = alt.Chart(single).mark_point(shape="M-1,-1L1,1M1,-1L-1,1", filled=False,
                                     strokeWidth=5, color="#F03C3C", size=1156,
                                     opacity=1).encode(
    x=alt.XDatum(MARKER_BAR, type="quantitative"),
    y=alt.YDatum(MARKER_PRICE, type="quantitative"),
)

sq_left = alt.Chart(single).mark_point(shape="square", filled=True, fill="white",
                                       stroke="#FF0000", strokeWidth=1.5, size=30,
                                       opacity=1).encode(
    x=alt.value(3), y=alt.YDatum(MARKER_PRICE, type="quantitative")
)
sq_right = alt.Chart(single).mark_point(shape="square", filled=True, fill="white",
                                        stroke="#FF0000", strokeWidth=1.5, size=30,
                                        opacity=1).encode(
    x=alt.value(W - 3), y=alt.YDatum(MARKER_PRICE, type="quantitative")
)

chart = alt.layer(
    lines, level_text, wicks, bodies, box_rects, box_text,
    title, tri, shift_tri, cross, sq_left, sq_right
).properties(
    width=W, height=H, background="white",
    autosize=alt.AutoSizeParams(type="none"),
    padding={"left": 0, "top": 0, "right": 76, "bottom": 34},
).configure_view(
    stroke="black", strokeWidth=1
)

chart.save("out.html", embed_options={"renderer": "svg", "actions": False})
